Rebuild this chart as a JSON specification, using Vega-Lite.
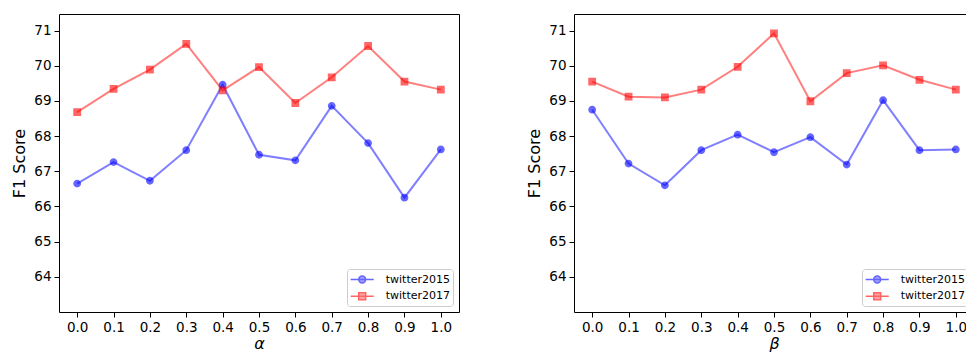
{
  "$schema": "https://vega.github.io/schema/vega-lite/v6.json",
  "padding": {"left": 10, "top": 13, "right": 0, "bottom": 0},
  "background": "white",
  "spacing": 65,
  "config": {
    "font": "DejaVu Sans",
    "view": {"stroke": "black", "strokeWidth": 1},
    "axis": {
      "grid": false,
      "domain": false,
      "tickColor": "black",
      "tickSize": 5,
      "tickWidth": 1,
      "labelColor": "black",
      "labelFont": "DejaVu Sans",
      "labelFontSize": 13.5,
      "labelPadding": 3,
      "titleColor": "black",
      "titleFont": "DejaVu Sans",
      "titleFontSize": 16,
      "titleFontWeight": "normal"
    },
    "axisY": {"titlePadding": 6.5},
    "axisX": {"titlePadding": 2, "titleFontStyle": "italic"},
    "legend": {
      "orient": "bottom-right",
      "offset": 6,
      "padding": 2.5,
      "strokeColor": "#cccccc",
      "fillColor": "rgba(255,255,255,0.8)",
      "cornerRadius": 3,
      "labelFont": "DejaVu Sans",
      "labelFontSize": 11,
      "labelColor": "black",
      "symbolSize": 200,
      "symbolStrokeWidth": 1.5,
      "symbolOffset": 4.7,
      "rowPadding": 1.7,
      "labelOffset": 15.5
    }
  },
  "resolve": {"legend": {"fill": "independent", "stroke": "independent", "shape": "independent"}, "scale": {"x": "independent", "y": "independent"}},
  "hconcat": [
    {
      "width": 400,
      "height": 298,
      "data": {"values": [
        {"p": 0.0, "s": "twitter2015", "f1": 66.65}, {"p": 0.1, "s": "twitter2015", "f1": 67.26}, {"p": 0.2, "s": "twitter2015", "f1": 66.73}, {"p": 0.3, "s": "twitter2015", "f1": 67.60}, {"p": 0.4, "s": "twitter2015", "f1": 69.46}, {"p": 0.5, "s": "twitter2015", "f1": 67.47}, {"p": 0.6, "s": "twitter2015", "f1": 67.31}, {"p": 0.7, "s": "twitter2015", "f1": 68.86}, {"p": 0.8, "s": "twitter2015", "f1": 67.80}, {"p": 0.9, "s": "twitter2015", "f1": 66.25}, {"p": 1.0, "s": "twitter2015", "f1": 67.62},
        {"p": 0.0, "s": "twitter2017", "f1": 68.68}, {"p": 0.1, "s": "twitter2017", "f1": 69.34}, {"p": 0.2, "s": "twitter2017", "f1": 69.89}, {"p": 0.3, "s": "twitter2017", "f1": 70.62}, {"p": 0.4, "s": "twitter2017", "f1": 69.30}, {"p": 0.5, "s": "twitter2017", "f1": 69.96}, {"p": 0.6, "s": "twitter2017", "f1": 68.94}, {"p": 0.7, "s": "twitter2017", "f1": 69.67}, {"p": 0.8, "s": "twitter2017", "f1": 70.56}, {"p": 0.9, "s": "twitter2017", "f1": 69.55}, {"p": 1.0, "s": "twitter2017", "f1": 69.32}
      ]},
      "encoding": {
        "x": {"field": "p", "type": "quantitative", "title": "α", "scale": {"domain": [-0.05, 1.05], "nice": false, "zero": false}, "axis": {"values": [0, 0.1, 0.2, 0.3, 0.4, 0.5, 0.6, 0.7, 0.8, 0.9, 1.0], "format": ".1f"}},
        "y": {"field": "f1", "type": "quantitative", "title": "F1 Score", "scale": {"domain": [63.0, 71.47], "nice": false, "zero": false}, "axis": {"values": [64, 65, 66, 67, 68, 69, 70, 71]}}
      },
      "layer": [
        {
          "mark": {"type": "line", "strokeWidth": 2, "opacity": 0.5},
          "encoding": {"color": {"field": "s", "type": "nominal", "legend": null, "scale": {"domain": ["twitter2015", "twitter2017"], "range": ["#0000ff", "#ff0000"]}}}
        },
        {
          "mark": {"type": "point", "filled": true, "opacity": 0.6, "strokeWidth": 0, "size": 253},
          "encoding": {
            "fill": {"field": "s", "type": "nominal", "scale": {"domain": ["twitter2015", "twitter2017"], "range": ["#0000ff", "#ff0000"]}, "legend": {"title": null, "encode": {"symbols": {"update": {"strokeWidth": {"value": 1.5}, "size": {"value": 200}, "opacity": {"value": 0.5}}}}}},
            "stroke": {"field": "s", "type": "nominal", "scale": {"domain": ["twitter2015", "twitter2017"], "range": ["#0000ff", "#ff0000"]}, "legend": {"title": null, "encode": {"symbols": {"update": {"strokeWidth": {"value": 1.5}, "size": {"value": 200}, "opacity": {"value": 0.5}}}}}},
            "shape": {"field": "s", "type": "nominal", "scale": {"domain": ["twitter2015", "twitter2017"], "range": ["M-1.63,0H1.63M0.49,0A0.49,0.49,0,1,1,-0.49,0A0.49,0.49,0,1,1,0.49,0Z", "M-1.63,0H1.63M-0.49,-0.49H0.49V0.49H-0.49Z"]}, "legend": {"title": null, "encode": {"symbols": {"update": {"strokeWidth": {"value": 1.5}, "size": {"value": 200}, "opacity": {"value": 0.5}}}}}}
          }
        }
      ]
    },
    {
      "width": 400,
      "height": 298,
      "data": {"values": [
        {"p": 0.0, "s": "twitter2015", "f1": 68.75}, {"p": 0.1, "s": "twitter2015", "f1": 67.22}, {"p": 0.2, "s": "twitter2015", "f1": 66.60}, {"p": 0.3, "s": "twitter2015", "f1": 67.60}, {"p": 0.4, "s": "twitter2015", "f1": 68.04}, {"p": 0.5, "s": "twitter2015", "f1": 67.54}, {"p": 0.6, "s": "twitter2015", "f1": 67.97}, {"p": 0.7, "s": "twitter2015", "f1": 67.19}, {"p": 0.8, "s": "twitter2015", "f1": 69.02}, {"p": 0.9, "s": "twitter2015", "f1": 67.60}, {"p": 1.0, "s": "twitter2015", "f1": 67.62},
        {"p": 0.0, "s": "twitter2017", "f1": 69.55}, {"p": 0.1, "s": "twitter2017", "f1": 69.12}, {"p": 0.2, "s": "twitter2017", "f1": 69.10}, {"p": 0.3, "s": "twitter2017", "f1": 69.32}, {"p": 0.4, "s": "twitter2017", "f1": 69.97}, {"p": 0.5, "s": "twitter2017", "f1": 70.92}, {"p": 0.6, "s": "twitter2017", "f1": 68.99}, {"p": 0.7, "s": "twitter2017", "f1": 69.79}, {"p": 0.8, "s": "twitter2017", "f1": 70.01}, {"p": 0.9, "s": "twitter2017", "f1": 69.60}, {"p": 1.0, "s": "twitter2017", "f1": 69.32}
      ]},
      "encoding": {
        "x": {"field": "p", "type": "quantitative", "title": "β", "scale": {"domain": [-0.05, 1.05], "nice": false, "zero": false}, "axis": {"values": [0, 0.1, 0.2, 0.3, 0.4, 0.5, 0.6, 0.7, 0.8, 0.9, 1.0], "format": ".1f"}},
        "y": {"field": "f1", "type": "quantitative", "title": "F1 Score", "scale": {"domain": [63.0, 71.47], "nice": false, "zero": false}, "axis": {"values": [64, 65, 66, 67, 68, 69, 70, 71]}}
      },
      "layer": [
        {
          "mark": {"type": "line", "strokeWidth": 2, "opacity": 0.5},
          "encoding": {"color": {"field": "s", "type": "nominal", "legend": null, "scale": {"domain": ["twitter2015", "twitter2017"], "range": ["#0000ff", "#ff0000"]}}}
        },
        {
          "mark": {"type": "point", "filled": true, "opacity": 0.6, "strokeWidth": 0, "size": 253},
          "encoding": {
            "fill": {"field": "s", "type": "nominal", "scale": {"domain": ["twitter2015", "twitter2017"], "range": ["#0000ff", "#ff0000"]}, "legend": {"title": null, "encode": {"symbols": {"update": {"strokeWidth": {"value": 1.5}, "size": {"value": 200}, "opacity": {"value": 0.5}}}}}},
            "stroke": {"field": "s", "type": "nominal", "scale": {"domain": ["twitter2015", "twitter2017"], "range": ["#0000ff", "#ff0000"]}, "legend": {"title": null, "encode": {"symbols": {"update": {"strokeWidth": {"value": 1.5}, "size": {"value": 200}, "opacity": {"value": 0.5}}}}}},
            "shape": {"field": "s", "type": "nominal", "scale": {"domain": ["twitter2015", "twitter2017"], "range": ["M-1.63,0H1.63M0.49,0A0.49,0.49,0,1,1,-0.49,0A0.49,0.49,0,1,1,0.49,0Z", "M-1.63,0H1.63M-0.49,-0.49H0.49V0.49H-0.49Z"]}, "legend": {"title": null, "encode": {"symbols": {"update": {"strokeWidth": {"value": 1.5}, "size": {"value": 200}, "opacity": {"value": 0.5}}}}}}
          }
        }
      ]
    }
  ]
}
